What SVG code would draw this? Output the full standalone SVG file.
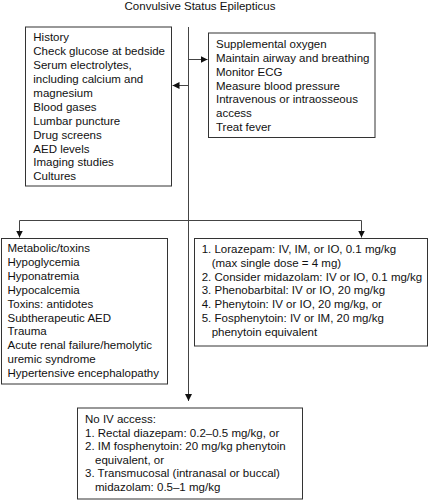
<svg xmlns="http://www.w3.org/2000/svg" width="429" height="500" viewBox="0 0 429 500">
<style>
  text { font-family: "Liberation Sans", Arial, sans-serif; font-size: 11.5px; fill: #111; }
  .box { fill: #fff; stroke: #333; stroke-width: 1; }
  .conn { fill: none; stroke: #444; stroke-width: 1; }
</style>
<defs>
  <marker id="arr" viewBox="0 0 10 10" refX="10" refY="5" markerWidth="7" markerHeight="7" markerUnits="userSpaceOnUse" orient="auto">
    <path d="M0,0 L10,5 L0,10 z" fill="#111"/>
  </marker>
</defs>
<rect width="429" height="500" fill="#fff"/>
<text x="200" y="10" text-anchor="middle">Convulsive Status Epilepticus</text>

<g id="connectors">
  <path class="conn" d="M188.5,27 V401" marker-end="url(#arr)"/>
  <path class="conn" d="M188.5,59.5 H207.5" marker-end="url(#arr)"/>
  <path class="conn" d="M188.5,85.5 H172.5" marker-end="url(#arr)"/>
  <path class="conn" d="M19.5,220.5 H361.5"/>
  <path class="conn" d="M19.5,220.5 V237.5" marker-end="url(#arr)"/>
  <path class="conn" d="M361.5,220.5 V237.5" marker-end="url(#arr)"/>
</g>

<g id="diagnostics">
  <rect class="box" x="25.5" y="27" width="146" height="159"/>
  <text x="33.3" y="41.3">History</text>
  <text x="33.3" y="55.2">Check glucose at bedside</text>
  <text x="33.3" y="69.1">Serum electrolytes,</text>
  <text x="33.3" y="83">including calcium and</text>
  <text x="33.3" y="96.9">magnesium</text>
  <text x="33.3" y="110.8">Blood gases</text>
  <text x="33.3" y="124.7">Lumbar puncture</text>
  <text x="33.3" y="138.6">Drug screens</text>
  <text x="33.3" y="152.5">AED levels</text>
  <text x="33.3" y="166.4">Imaging studies</text>
  <text x="33.3" y="180.3">Cultures</text>
</g>

<g id="support">
  <rect class="box" x="208.5" y="33" width="166.5" height="104.5"/>
  <text x="216" y="48">Supplemental oxygen</text>
  <text x="216" y="61.9">Maintain airway and breathing</text>
  <text x="216" y="75.7">Monitor ECG</text>
  <text x="216" y="89.6">Measure blood pressure</text>
  <text x="216" y="103.4">Intravenous or intraosseous</text>
  <text x="216" y="117.3">access</text>
  <text x="216" y="131.1">Treat fever</text>
</g>

<g id="causes">
  <rect class="box" x="1.5" y="238.5" width="166" height="145.5"/>
  <text x="7.5" y="252">Metabolic/toxins</text>
  <text x="7.5" y="265.9">Hypoglycemia</text>
  <text x="7.5" y="279.8">Hyponatremia</text>
  <text x="7.5" y="293.7">Hypocalcemia</text>
  <text x="7.5" y="307.6">Toxins: antidotes</text>
  <text x="7.5" y="321.5">Subtherapeutic AED</text>
  <text x="7.5" y="335.4">Trauma</text>
  <text x="7.5" y="349.3">Acute renal failure/hemolytic</text>
  <text x="7.5" y="363.2">uremic syndrome</text>
  <text x="7.5" y="377.1">Hypertensive encephalopathy</text>
</g>

<g id="drugs">
  <rect class="box" x="194.5" y="238.5" width="233" height="107.5"/>
  <text x="201.7" y="253">1. Lorazepam: IV, IM, or IO, 0.1 mg/kg</text>
  <text x="211.7" y="266.8">(max single dose = 4 mg)</text>
  <text x="201.7" y="280.6">2. Consider midazolam: IV or IO, 0.1 mg/kg</text>
  <text x="201.7" y="294.4">3. Phenobarbital: IV or IO, 20 mg/kg</text>
  <text x="201.7" y="308.2">4. Phenytoin: IV or IO, 20 mg/kg, or</text>
  <text x="201.7" y="322">5. Fosphenytoin: IV or IM, 20 mg/kg</text>
  <text x="211.7" y="335.9">phenytoin equivalent</text>
</g>

<g id="noiv">
  <rect class="box" x="77.5" y="408" width="225" height="91"/>
  <text x="85" y="423">No IV access:</text>
  <text x="85" y="436.6">1. Rectal diazepam: 0.2–0.5 mg/kg, or</text>
  <text x="85" y="450.2">2. IM fosphenytoin: 20 mg/kg phenytoin</text>
  <text x="95" y="463.8">equivalent, or</text>
  <text x="85" y="477.4">3. Transmucosal (intranasal or buccal)</text>
  <text x="95" y="491">midazolam: 0.5–1 mg/kg</text>
</g>
</svg>
